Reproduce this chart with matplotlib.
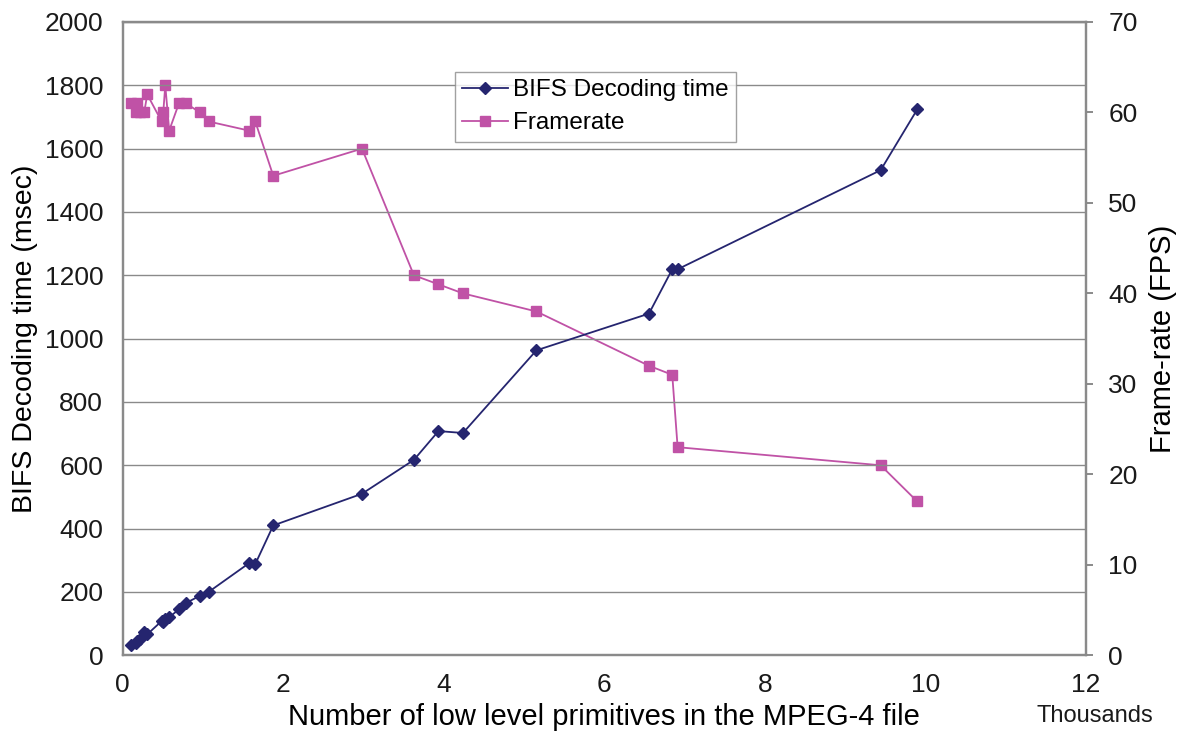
import matplotlib
matplotlib.use("Agg")
import matplotlib.pyplot as plt
from matplotlib.ticker import MultipleLocator

plt.rcParams['font.family'] = ['Liberation Sans', 'DejaVu Sans']

# primitives (thousands), shared by both series
primitives = [0.107, 0.162, 0.174, 0.215, 0.269, 0.306, 0.486, 0.506, 0.531, 0.580,
              0.701, 0.789, 0.963, 1.071, 1.570, 1.652, 1.876, 2.981, 3.628, 3.934,
              4.239, 5.154, 6.556, 6.846, 6.913, 9.442, 9.898]
decoding_ms = [32, 40, 45, 52, 75, 66, 108, 105, 115, 120,
               145, 165, 188, 200, 290, 288, 410, 510, 617, 708,
               702, 963, 1079, 1219, 1219, 1532, 1724]
framerate = [61, 60, 61, 60, 60, 62, 59, 60, 63, 58,
             61, 61, 60, 59, 58, 59, 53, 56, 42, 41,
             40, 38, 32, 31, 23, 21, 17]

NAVY = '#25256f'
PINK = '#c052a6'
GREY = '#8a8a8a'
TXT = '#1a1a1a'

fig = plt.figure(figsize=(11.77, 7.40), dpi=100)
ax = fig.add_axes([0.1042, 0.1145, 0.8185, 0.8558])
ax2 = ax.twinx()

l1, = ax.plot(primitives, decoding_ms, color=NAVY, lw=1.3, marker='D', ms=6.5,
              mec=NAVY, mfc=NAVY, label='BIFS Decoding time', zorder=3)
l2, = ax2.plot(primitives, framerate, color=PINK, lw=1.3, marker='s', ms=7,
               mec=PINK, mfc=PINK, label='Framerate', zorder=3)

ax.set_xlim(0, 12)
ax.set_ylim(0, 2000)
ax2.set_ylim(0, 70)
ax.xaxis.set_major_locator(MultipleLocator(2))
ax.yaxis.set_major_locator(MultipleLocator(200))
ax2.yaxis.set_major_locator(MultipleLocator(10))

ax.grid(axis='y', color=GREY, lw=1.0)
ax.set_axisbelow(True)

for a in (ax, ax2):
    for s in a.spines.values():
        s.set_color(GREY)
        s.set_linewidth(1.6)

ax.tick_params(axis='both', length=0, labelsize=19, pad=14, colors=TXT)
ax.tick_params(axis='x', pad=13)
ax2.tick_params(axis='y', length=5, width=1.4, color=GREY, labelsize=19, pad=11,
                labelcolor=TXT)

ax.set_ylabel('BIFS Decoding time (msec)', fontsize=20.5, labelpad=5)
ax2.set_ylabel('Frame-rate (FPS)', fontsize=21, labelpad=8)
ax.set_xlabel('Number of low level primitives in the MPEG-4 file', fontsize=21, labelpad=4)
ax.text(1.009, -0.096, 'Thousands', transform=ax.transAxes, fontsize=17,
        ha='center', va='center', color=TXT)

leg = ax.legend(handles=[l1, l2], loc='upper left', bbox_to_anchor=(0.345, 0.921),
                fontsize=17.5, frameon=True, fancybox=False, borderpad=0.3,
                handlelength=1.9, handletextpad=0.2, labelspacing=0.45,
                borderaxespad=0)
leg.get_frame().set_edgecolor(GREY)
leg.get_frame().set_linewidth(1.0)
leg.set_zorder(5)
ax.set_zorder(ax2.get_zorder() + 1)
ax.patch.set_visible(False)

fig.savefig('out.png', dpi=100)
